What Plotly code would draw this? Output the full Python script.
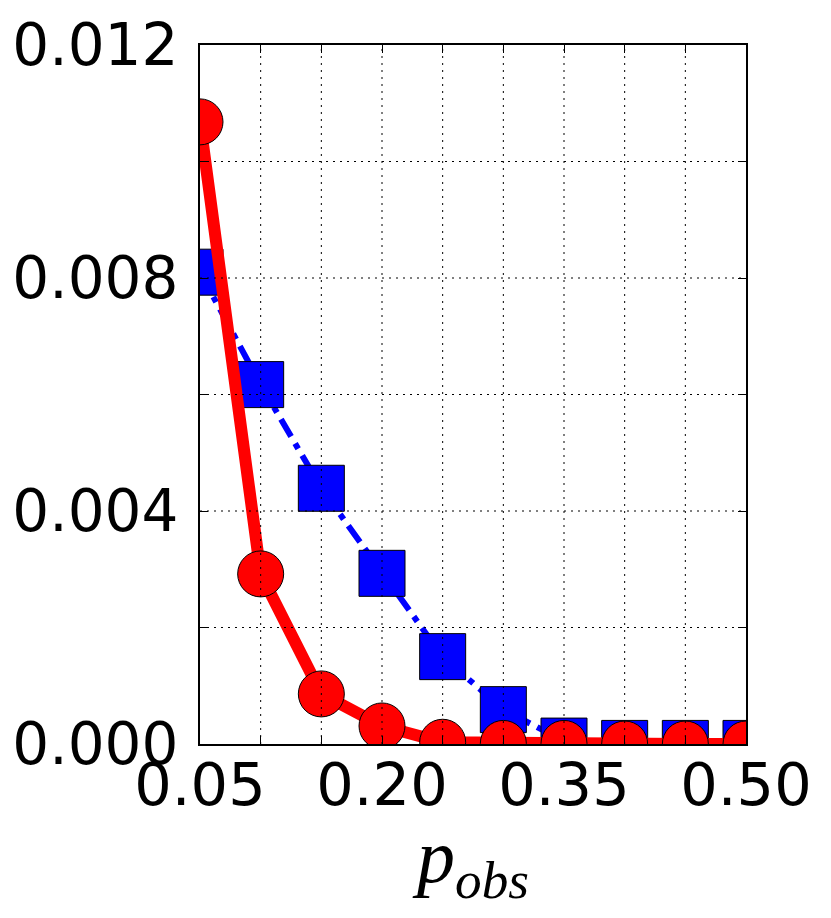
import plotly.graph_objects as go

p_obs = [0.05, 0.10, 0.15, 0.20, 0.25, 0.30, 0.35, 0.40, 0.45, 0.50]
blue_sq = [0.0081, 0.00617, 0.00439, 0.00293, 0.0015, 0.00059, 0.00005, 0.00001, 0.00001, 0.00001]
red_ci = [0.01068, 0.00292, 0.00086, 0.00031, 0.00003, 0.00001, 0.00001, 0.0, 0.0, 0.0]

x_ticks = [0.05, 0.20, 0.35, 0.50]
x_grid = p_obs
y_grid = [0.0, 0.002, 0.004, 0.006, 0.008, 0.010, 0.012]
y_labels = {0.0: "0.000", 0.004: "0.004", 0.008: "0.008", 0.012: "0.012"}

fig = go.Figure()
fig.add_trace(go.Scatter(
    x=p_obs, y=blue_sq, mode="lines+markers",
    line=dict(color="#0000ff", width=6, dash="20px,8px,6px,8px"),
    marker=dict(symbol="square", size=46, color="#0000ff", line=dict(color="black", width=1)),
    showlegend=False))
fig.add_trace(go.Scatter(
    x=p_obs, y=red_ci, mode="lines+markers",
    line=dict(color="#ff0000", width=12),
    marker=dict(symbol="circle", size=46, color="#ff0000", line=dict(color="black", width=1)),
    showlegend=False))

shapes = []
for gx in x_grid[1:-1]:
    shapes.append(dict(type="line", xref="x", yref="paper", x0=gx, x1=gx, y0=0, y1=1,
                       line=dict(color="black", width=1, dash="2px,5px"), layer="above"))
for gy in y_grid[1:-1]:
    shapes.append(dict(type="line", xref="paper", yref="y", x0=0, x1=1, y0=gy, y1=gy,
                       line=dict(color="black", width=1, dash="2px,5px"), layer="above"))

fig.update_layout(
    width=815, height=902,
    margin=dict(l=192, r=77, t=37, b=166),
    plot_bgcolor="white", paper_bgcolor="white",
    font=dict(family="DejaVu Sans", size=58, color="black"),
    shapes=shapes,
    xaxis=dict(range=[0.05, 0.50], tickvals=x_grid,
               ticktext=[("%.2f" % v) if any(abs(v - t) < 1e-9 for t in x_ticks) else "" for v in x_grid],
               ticks="inside", ticklen=8, tickcolor="black", tickwidth=1,
               showgrid=False, zeroline=False, showline=True, linecolor="black", linewidth=2,
               mirror="allticks", layer="above traces", automargin=False, ticklabelstandoff=-12,
               tickfont=dict(size=59),
               title=dict(text="<i>p</i><sub><i>obs</i></sub>",
                          font=dict(family="Liberation Serif", size=76), standoff=18)),
    yaxis=dict(range=[0.0, 0.012], tickvals=y_grid,
               ticktext=[y_labels.get(round(v, 3), "") for v in y_grid],
               ticks="inside", ticklen=8, tickcolor="black", tickwidth=1,
               showgrid=False, zeroline=False, showline=True, linecolor="black", linewidth=2,
               mirror="allticks", layer="above traces", ticklabelstandoff=8, automargin=False),
)

fig.write_html("out.html")
